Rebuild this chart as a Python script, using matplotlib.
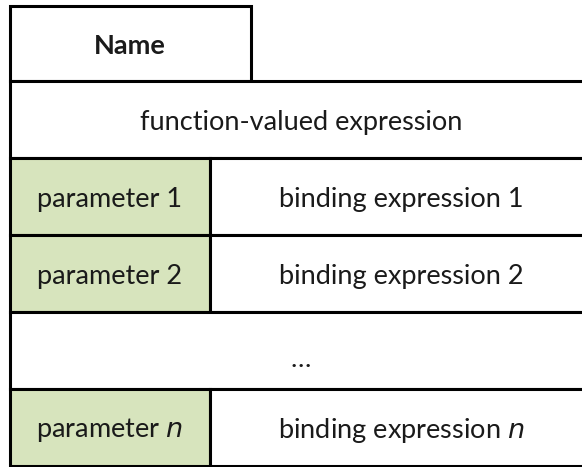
import matplotlib.pyplot as plt
from matplotlib.patches import Rectangle

plt.rcParams['font.family'] = ['Lato', 'DejaVu Sans']

# diagram content
title = "Name"
header = "function-valued expression"
params = ["parameter 1", "parameter 2", None, "parameter $\\it{n}$"]
bindings = ["binding expression 1", "binding expression 2", "\u2026",
            "binding expression $\\it{n}$"]

green = "#d7e4bd"
text_color = "#1a1a1a"
lw = 2.2
fs = 19.5

# layout in pixels
left, right = 9.5, 592
tab_right = 251
split = 210
tab_top = 5.5
row_top = 81
row_h = 77
dy = 3  # text sits a bit below the row centre


def main():
    fig = plt.figure(figsize=(5.82, 4.67), dpi=100)
    ax = fig.add_axes([0, 0, 1, 1])
    ax.set_xlim(0, 582)
    ax.set_ylim(467, 0)
    ax.axis("off")

    # name tab
    ax.add_patch(Rectangle((left, tab_top), tab_right - left, row_top - tab_top,
                           facecolor="white", edgecolor="black", lw=lw))
    ax.text((left + tab_right) / 2, (tab_top + row_top) / 2 + dy, title,
            ha="center", va="center", fontsize=fs, fontweight="bold",
            color=text_color)

    # header row
    y = row_top
    ax.add_patch(Rectangle((left, y), right - left, row_h,
                           facecolor="white", edgecolor="black", lw=lw))
    ax.text((left + right) / 2, y + row_h / 2 + dy, header,
            ha="center", va="center", fontsize=fs, color=text_color)

    for i, (p, b) in enumerate(zip(params, bindings)):
        y = row_top + (i + 1) * row_h
        if p is None:
            ax.add_patch(Rectangle((left, y), right - left, row_h,
                                   facecolor="white", edgecolor="black", lw=lw))
            ax.text((left + right) / 2, y + row_h / 2 + 9, b,
                    ha="center", va="center", fontsize=fs, color=text_color)
            continue
        ax.add_patch(Rectangle((left, y), split - left, row_h,
                               facecolor=green, edgecolor="black", lw=lw))
        ax.add_patch(Rectangle((split, y), right - split, row_h,
                               facecolor="white", edgecolor="black", lw=lw))
        ax.text((left + split) / 2, y + row_h / 2 + dy, p,
                ha="center", va="center", fontsize=fs, color=text_color)
        ax.text((split + right) / 2, y + row_h / 2 + dy, b,
                ha="center", va="center", fontsize=fs, color=text_color)

    fig.savefig("out.png", dpi=100)


if __name__ == "__main__":
    main()
